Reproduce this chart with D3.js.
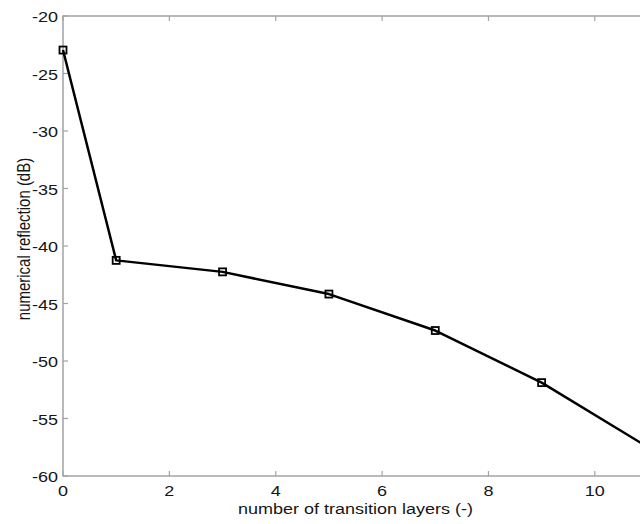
<!DOCTYPE html>
<html>
<head>
<meta charset="utf-8">
<script src="https://cdn.jsdelivr.net/npm/d3@7"></script>
<style>
  html, body { margin: 0; padding: 0; background: #fff; }
  svg { display: block; }
  text { font-family: "Liberation Sans", Arial, sans-serif; fill: #161616; }
</style>
</head>
<body>
<div id="chart"></div>
<script>
// number of transition layers vs numerical reflection
var LAYERS = [0, 1, 3, 5, 7, 9, 11];
var REFLECTION = [-22.96, -41.25, -42.25, -44.18, -47.35, -51.88, -57.5];
var X_TICKS = [0, 2, 4, 6, 8, 10];
var Y_TICKS = [-60, -55, -50, -45, -40, -35, -30, -25, -20];

var W = 640, H = 524;
var margin = { left: 63, top: 16, right: 648, bottom: 476 };
var STRETCH = 1.2; // the source figure is stretched horizontally

var svg = d3.select('#chart').append('svg')
    .attr('width', W).attr('height', H);

var x = d3.scaleLinear().domain([0, 11]).range([margin.left, margin.right]);
var y = d3.scaleLinear().domain([-60, -20]).range([margin.bottom, margin.top]);

var axisColor = '#a3a3a3';

// box
svg.append('rect')
    .attr('x', margin.left).attr('y', margin.top)
    .attr('width', margin.right - margin.left)
    .attr('height', margin.bottom - margin.top)
    .attr('fill', 'none')
    .attr('stroke', axisColor)
    .attr('stroke-width', 1.5);

// ticks (inward, matlab style)
var tickLen = 5;
svg.append('g').selectAll('line').data(X_TICKS).enter().append('line')
    .attr('x1', function(d) { return x(d); }).attr('x2', function(d) { return x(d); })
    .attr('y1', margin.bottom).attr('y2', margin.bottom - tickLen)
    .attr('stroke', axisColor).attr('stroke-width', 1.2);
svg.append('g').selectAll('line').data(X_TICKS).enter().append('line')
    .attr('x1', function(d) { return x(d); }).attr('x2', function(d) { return x(d); })
    .attr('y1', margin.top).attr('y2', margin.top + tickLen)
    .attr('stroke', axisColor).attr('stroke-width', 1.2);
svg.append('g').selectAll('line').data(Y_TICKS).enter().append('line')
    .attr('x1', margin.left).attr('x2', margin.left + tickLen)
    .attr('y1', function(d) { return y(d); }).attr('y2', function(d) { return y(d); })
    .attr('stroke', axisColor).attr('stroke-width', 1.2);

// tick labels
svg.append('g').selectAll('text').data(X_TICKS).enter().append('text')
    .attr('transform', function(d) { return 'translate(' + x(d) + ',' + (margin.bottom + 19.5) + ') scale(' + STRETCH + ',1)'; })
    .attr('text-anchor', 'middle')
    .attr('font-size', '15px')
    .text(function(d) { return d; });

svg.append('g').selectAll('text').data(Y_TICKS).enter().append('text')
    .attr('transform', function(d) { return 'translate(' + (margin.left - 5) + ',' + (y(d) + 6) + ') scale(' + STRETCH + ',1)'; })
    .attr('text-anchor', 'end')
    .attr('font-size', '15px')
    .text(function(d) { return d; });

// axis labels
svg.append('text')
    .attr('transform', 'translate(' + x(5.5) + ',513.5) scale(' + STRETCH + ',1)')
    .attr('text-anchor', 'middle')
    .attr('font-size', '15px')
    .text('number of transition layers (-)');

svg.append('text')
    .attr('transform', 'translate(30,239) scale(' + STRETCH + ',1) rotate(-90)')
    .attr('text-anchor', 'middle')
    .attr('font-size', '15px')
    .text('numerical reflection (dB)');

// data line
var pts = LAYERS.map(function(d, i) { return [d, REFLECTION[i]]; });
var line = d3.line()
    .x(function(d) { return x(d[0]); })
    .y(function(d) { return y(d[1]); });

svg.append('path')
    .datum(pts)
    .attr('d', line)
    .attr('fill', 'none')
    .attr('stroke', '#000')
    .attr('stroke-width', 2.5)
    .attr('stroke-linejoin', 'round');

// square markers
svg.append('g').selectAll('rect').data(pts).enter().append('rect')
    .attr('x', function(d) { return x(d[0]) - 3.5; })
    .attr('y', function(d) { return y(d[1]) - 3.5; })
    .attr('width', 7).attr('height', 7)
    .attr('fill', 'none')
    .attr('stroke', '#000')
    .attr('stroke-width', 1.8);
</script>
</body>
</html>
